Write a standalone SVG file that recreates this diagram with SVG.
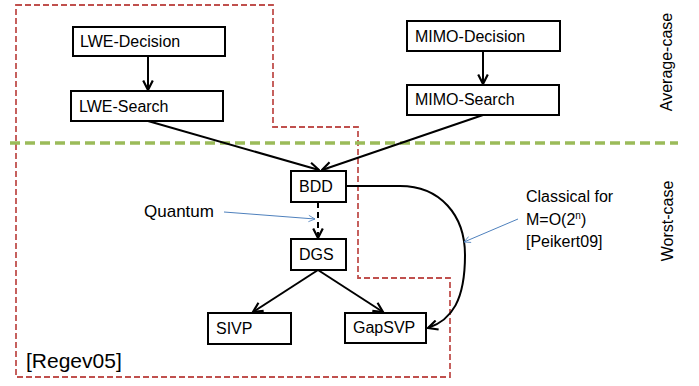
<svg xmlns="http://www.w3.org/2000/svg" width="699" height="386" viewBox="0 0 699 386">
<style>
.box{fill:#fff;stroke:#000;stroke-width:2}
.t{font-family:"Liberation Sans",Arial,sans-serif;font-size:16px;fill:#000}
.c{fill:none;stroke:#000;stroke-width:2}
.b{fill:none;stroke:#4f81bd;stroke-width:1}
</style>
<defs>
<marker id="ah" viewBox="0 0 10 10" refX="9" refY="5" markerWidth="6" markerHeight="6" orient="auto" markerUnits="strokeWidth">
<path d="M1,1 L9,5 L1,9" fill="none" stroke="#000" stroke-width="1.8"/>
</marker>
<marker id="bh" viewBox="0 0 10 10" refX="9" refY="5" markerWidth="8" markerHeight="8" orient="auto" markerUnits="strokeWidth">
<path d="M1,1 L9,5 L1,9" fill="none" stroke="#4f81bd" stroke-width="1"/>
</marker>
</defs>
<g id="regions">
<path d="M16,5 L273,5 L273,127 L358,127 L358,278 L450,278 L450,377 L16,377 Z" fill="none" stroke="#c0504d" stroke-width="1.8" stroke-dasharray="6,3"/>
<line x1="10" y1="143" x2="678" y2="143" stroke="#9bbb59" stroke-width="3.5" stroke-dasharray="10,5"/>
</g>
<g id="connectors">
<line class="c" x1="148" y1="56" x2="148" y2="90" marker-end="url(#ah)"/>
<line class="c" x1="483" y1="51" x2="483" y2="84" marker-end="url(#ah)"/>
<line class="c" x1="148" y1="121" x2="319" y2="170" marker-end="url(#ah)"/>
<line class="c" x1="483" y1="115" x2="322" y2="170" marker-end="url(#ah)"/>
<line class="c" x1="318" y1="202" x2="318" y2="238" stroke-dasharray="6,4" marker-end="url(#ah)"/>
<line class="c" x1="318" y1="270" x2="253" y2="312" marker-end="url(#ah)"/>
<line class="c" x1="318" y1="270" x2="383" y2="312" marker-end="url(#ah)"/>
<path class="c" d="M346,186 L400,186 C440,186 465,215 465,255 C465,300 452,320 428,328" marker-end="url(#ah)"/>
<line class="b" x1="224" y1="212" x2="315" y2="219" marker-end="url(#bh)"/>
<line class="b" x1="518" y1="219" x2="464" y2="242" marker-end="url(#bh)"/>
</g>
<g id="lwe-decision"><rect class="box" x="73" y="27" width="152" height="29"/><text class="t" x="80" y="47">LWE-Decision</text></g>
<g id="lwe-search"><rect class="box" x="71" y="91" width="152" height="30"/><text class="t" x="79" y="112">LWE-Search</text></g>
<g id="mimo-decision"><rect class="box" x="407" y="21" width="153" height="30"/><text class="t" x="415" y="42">MIMO-Decision</text></g>
<g id="mimo-search"><rect class="box" x="407" y="85" width="152" height="30"/><text class="t" x="415" y="105">MIMO-Search</text></g>
<g id="bdd"><rect class="box" x="291" y="171" width="55" height="31"/><text class="t" x="299" y="192">BDD</text></g>
<g id="dgs"><rect class="box" x="291" y="239" width="55" height="31"/><text class="t" x="299" y="260">DGS</text></g>
<g id="sivp"><rect class="box" x="208" y="313" width="83" height="31"/><text class="t" x="216" y="334">SIVP</text></g>
<g id="gapsvp"><rect class="box" x="345" y="313" width="81" height="30"/><text class="t" x="353" y="333">GapSVP</text></g>
<g id="labels">
<text class="t" x="144" y="217" style="font-size:17px">Quantum</text>
<text class="t" x="526" y="202">Classical for</text>
<text class="t" x="526" y="225">M=O(2<tspan font-size="10" dy="-6">n</tspan><tspan dy="6">)</tspan></text>
<text class="t" x="526" y="247">[Peikert09]</text>
<text class="t" x="26" y="368" style="font-size:21px">[Regev05]</text>
<text class="t" transform="translate(672,62) rotate(-90)" text-anchor="middle">Average-case</text>
<text class="t" transform="translate(673,221) rotate(-90)" text-anchor="middle">Worst-case</text>
</g>
</svg>
